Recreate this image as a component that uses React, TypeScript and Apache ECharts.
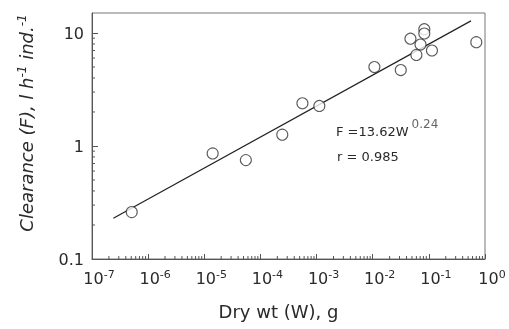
import React, { useEffect, useRef } from 'react';
import * as echarts from 'echarts';

// Dry weight W (g) and clearance F (l h^-1 ind^-1)
const weights = [5.1e-7, 1.41e-5, 5.5e-5, 2.45e-4, 5.6e-4, 1.12e-3, 1.07e-2, 3.16e-2, 6.0e-2, 4.7e-2, 7.1e-2, 8.3e-2, 8.3e-2, 1.135e-1, 7.0e-1];
const clearances = [0.26, 0.86, 0.75, 1.26, 2.39, 2.26, 5.0, 4.7, 6.4, 8.9, 7.9, 10.8, 9.9, 7.0, 8.3];

// Fitted regression line end points (as drawn)
const fitW = [2.4e-7, 0.562];
const fitF = [0.229, 12.8];

// Axis decades
const xDecades = [-7, -6, -5, -4, -3, -2, -1, 0];
const yDecades = [-1, 0, 1];
const yTickLabels = ['0.1', '1', '10'];
const yMaxLog = 1.177;

const TEXT = '#2a2a2a';
const FONT = 'DejaVu Sans';

export default function App() {
  const ref = useRef<HTMLDivElement>(null);
  useEffect(() => {
    if (!ref.current) return;
    const chart = echarts.init(ref.current, undefined, { renderer: 'svg' });
    const lg = Math.log10;
    const scatterData = weights.map((w, i) => [lg(w), lg(clearances[i])]);
    const lineData = fitW.map((w, i) => [lg(w), lg(fitF[i])]);
    const xMinor: number[][] = [];
    for (let d = xDecades[0]; d < xDecades[xDecades.length - 1]; d++) {
      for (let k = 2; k <= 9; k++) xMinor.push([d + lg(k), yDecades[0]]);
    }
    const yMinor: number[][] = [];
    for (const d of yDecades) {
      for (let k = 2; k <= 9; k++) {
        const v = d + lg(k);
        if (v < yMaxLog) yMinor.push([xDecades[0], v]);
      }
    }
    const tickStyle = { stroke: '#555', lineWidth: 1 };
    chart.setOption({
      animation: false,
      grid: { left: 92, top: 13, right: 24, bottom: 70, show: true, borderColor: '#777', borderWidth: 1 },
      xAxis: {
        type: 'value',
        min: -7,
        max: 0,
        interval: 1,
        splitLine: { show: false },
        axisLine: { onZero: false, lineStyle: { color: '#555', width: 1 } },
        axisTick: { inside: true, length: 5, lineStyle: { color: '#555' } },
        axisLabel: {
          margin: 10,
          color: TEXT,
          fontFamily: FONT,
          padding: [0, 0, 0, 14],
          formatter: (v: number) => (Number.isInteger(v) ? `{b|10}{s|${v}}` : ''),
          rich: {
            b: { fontSize: 16, fontFamily: FONT, color: TEXT },
            s: { fontSize: 11, fontFamily: FONT, color: TEXT, padding: [0, 0, 8, 0] },
          },
        },
        name: 'Dry wt (W), g',
        nameLocation: 'middle',
        nameGap: 43,
        nameTextStyle: { fontSize: 18, fontFamily: FONT, color: TEXT, padding: [0, 20, 0, 0] },
      },
      yAxis: {
        type: 'value',
        min: -1,
        max: yMaxLog,
        interval: 1,
        splitLine: { show: false },
        axisLine: { onZero: false, lineStyle: { color: '#555', width: 1 } },
        axisTick: { inside: true, length: 6, lineStyle: { color: '#555' } },
        axisLabel: {
          margin: 8,
          color: TEXT,
          fontFamily: FONT,
          fontSize: 16,
          showMaxLabel: false,
          formatter: (v: number) => {
            const i = yDecades.indexOf(v);
            return i >= 0 ? yTickLabels[i] : '';
          },
        },
        name: '{n|Clearance (F), l h}{s|-1}{n| ind.}{s|-1}',
        nameLocation: 'middle',
        nameGap: 55,
        nameTextStyle: {
          padding: [0, 0, 0, 26],
          rich: {
            n: { fontSize: 18, fontFamily: FONT, fontStyle: 'italic', color: TEXT },
            s: { fontSize: 12, fontFamily: FONT, fontStyle: 'italic', color: TEXT, padding: [0, 0, 9, 0] },
          },
        },
      },
      series: [
        {
          type: 'custom',
          silent: true,
          data: xMinor,
          renderItem: (_p: any, api: any) => {
            const p = api.coord([api.value(0), api.value(1)]);
            return { type: 'line', shape: { x1: p[0], y1: p[1], x2: p[0], y2: p[1] - 3 }, style: tickStyle };
          },
        },
        {
          type: 'custom',
          silent: true,
          data: yMinor,
          renderItem: (_p: any, api: any) => {
            const p = api.coord([api.value(0), api.value(1)]);
            return { type: 'line', shape: { x1: p[0], y1: p[1], x2: p[0] + 3, y2: p[1] }, style: tickStyle };
          },
        },
        {
          type: 'line',
          data: lineData,
          symbol: 'none',
          lineStyle: { color: '#222', width: 1.2 },
          z: 2,
        },
        {
          type: 'scatter',
          data: scatterData,
          symbol: 'circle',
          symbolSize: 11,
          itemStyle: { color: '#fff', borderColor: '#333', borderWidth: 1.1 },
          z: 3,
        },
      ],
      graphic: [
        {
          type: 'text',
          left: 336,
          top: 118,
          style: {
            text: '{b|F =13.62W}{s|0.24}',
            rich: {
              b: { fontSize: 13, fontFamily: FONT, fill: TEXT },
              s: { fontSize: 12, fontFamily: FONT, fill: '#666', padding: [0, 0, 14, 3] },
            },
          },
        },
        {
          type: 'text',
          left: 337,
          top: 150,
          style: { text: 'r = 0.985', fontSize: 13, fontFamily: FONT, fill: TEXT },
        },
      ],
    });
    return () => chart.dispose();
  }, []);
  return <div ref={ref} style={{ position: 'fixed', left: 0, top: 0, width: 509, height: 329 }} />;
}
